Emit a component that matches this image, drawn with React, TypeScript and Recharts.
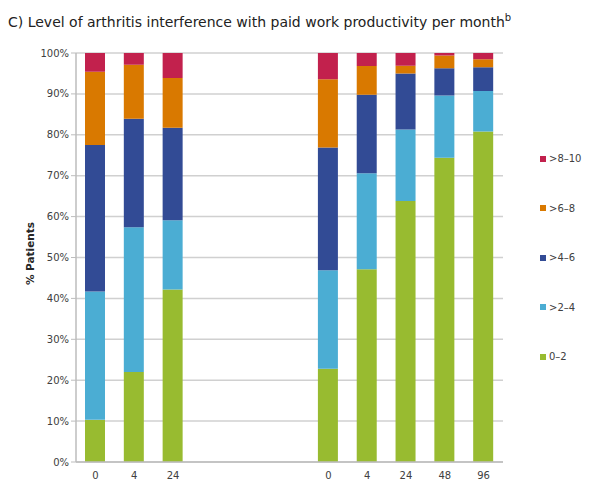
import { Bar, BarChart, CartesianGrid, XAxis, YAxis } from "recharts"

// visit weeks per study arm; empty strings are the gap between the two groups
const weeks = ["0", "4", "24", "", "", "", "0", "4", "24", "48", "96"]

const score0to2 = [10.3, 22.0, 42.2, null, null, null, 22.8, 47.1, 63.8, 74.4, 80.8]
const score2to4 = [31.4, 35.4, 16.9, null, null, null, 24.1, 23.5, 17.5, 15.2, 9.9]
const score4to6 = [35.8, 26.5, 22.6, null, null, null, 30.0, 19.2, 13.7, 6.7, 5.8]
const score6to8 = [17.9, 13.2, 12.2, null, null, null, 16.7, 7.0, 1.9, 3.1, 2.0]
const score8to10 = [4.6, 2.9, 6.1, null, null, null, 6.4, 3.2, 3.1, 0.6, 1.5]

const yTicks = [0, 10, 20, 30, 40, 50, 60, 70, 80, 90, 100]

const series = [
  { key: "s0", name: "0–2", color: "#98bb30", values: score0to2 },
  { key: "s2", name: ">2–4", color: "#4badd3", values: score2to4 },
  { key: "s4", name: ">4–6", color: "#324b95", values: score4to6 },
  { key: "s6", name: ">6–8", color: "#d97900", values: score6to8 },
  { key: "s8", name: ">8–10", color: "#c2214d", values: score8to10 },
]

const data = weeks.map((w, i) => {
  const row: Record<string, number | string | null> = { id: i, week: w }
  series.forEach((s) => {
    row[s.key] = s.values[i]
  })
  return row
})

const font = "'DejaVu Sans', Verdana, sans-serif"

function SideLegend() {
  const items = [...series].reverse()
  return (
    <div
      style={{
        position: "absolute",
        left: 540,
        top: 134,
        fontFamily: font,
        fontSize: 10,
        color: "#404040",
      }}
    >
      {items.map((s) => (
        <div key={s.key} style={{ height: 49.5, display: "flex", alignItems: "center" }}>
          <span
            style={{ width: 6, height: 6, background: s.color, display: "inline-block", marginRight: 3 }}
          />
          <span>{s.name}</span>
        </div>
      ))}
    </div>
  )
}

function YLabel(props: any) {
  const vb = props.viewBox
  const x = vb.x + 30
  const y = vb.y + vb.height / 2 - 4
  return (
    <text
      x={x}
      y={y}
      transform={`rotate(-90 ${x} ${y})`}
      textAnchor="middle"
      dominantBaseline="central"
      fontFamily={font}
      fontSize={10.5}
      fontWeight="bold"
      fill="#262626"
    >
      % Patients
    </text>
  )
}

export default function App() {
  return (
    <div style={{ position: "absolute", left: 0, top: 0, width: 596, height: 481, background: "#fff" }}>
      <div
        style={{
          position: "absolute",
          left: 8,
          top: 12,
          fontFamily: font,
          fontSize: 14,
          color: "#222",
          whiteSpace: "nowrap",
        }}
      >
        C) Level of arthritis interference with paid work productivity per month
        <sup style={{ fontSize: 10 }}>b</sup>
      </div>
      <BarChart
        width={596}
        height={481}
        data={data}
        barSize={20}
        margin={{ top: 53, right: 93, left: 0, bottom: 0 }}
        style={{ position: "absolute", left: 0, top: 0 }}
      >
        <CartesianGrid vertical={false} stroke="#d0d0d0" strokeWidth={1.5} />
        <XAxis
          dataKey="id"
          type="category"
          interval={0}
          height={19}
          tickLine={false}
          tickSize={0}
          tickMargin={10}
          axisLine={{ stroke: "#bdbdbd", strokeWidth: 1.5 }}
          tickFormatter={(v) => weeks[v]}
          tick={{ fontFamily: font, fontSize: 10, fill: "#404040" }}
        />
        <YAxis
          width={76}
          domain={[0, 100]}
          ticks={yTicks}
          allowDataOverflow
          tickFormatter={(v) => `${v}%`}
          tickSize={5}
          tickMargin={2}
          tickLine={{ stroke: "#bdbdbd" }}
          axisLine={{ stroke: "#bdbdbd", strokeWidth: 1.5 }}
          tick={{ fontFamily: font, fontSize: 10, fill: "#404040" }}
          label={<YLabel />}
        />
        {series.map((s) => (
          <Bar
            key={s.key}
            dataKey={s.key}
            name={s.name}
            stackId="a"
            fill={s.color}
            isAnimationActive={false}
          />
        ))}
      </BarChart>
      <SideLegend />
    </div>
  )
}
